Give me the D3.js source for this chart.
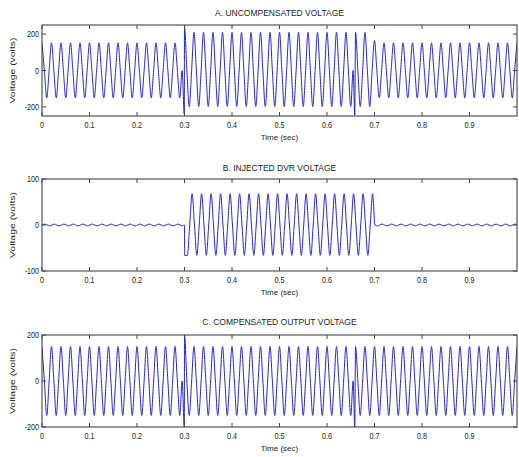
<!DOCTYPE html>
<meta charset="utf-8">
<script src="https://cdn.jsdelivr.net/npm/d3@7"></script>
<style>
  body { margin: 0; background: #fff; }
  text { font-family: "Liberation Sans", Arial, sans-serif; fill: #222; }
</style>
<svg id="graph" width="519" height="457"></svg>
<script>

// ---- data ----
var timeTicks = [0, 0.1, 0.2, 0.3, 0.4, 0.5, 0.6, 0.7, 0.8, 0.9];
var titles = ["A. UNCOMPENSATED VOLTAGE", "B. INJECTED DVR VOLTAGE", "C. COMPENSATED OUTPUT VOLTAGE"];
var yTicksA = [-200, 0, 200], yTicksB = [-100, 0, 100], yTicksC = [-200, 0, 200];
var yLimA = [-250, 250], yLimB = [-100, 100], yLimC = [-200, 200];
var halfPeriod = 0.01;   // 50 Hz supply, one extremum every 10 ms

// half-cycle extremes, one row per 0.1 s
var peaksA = [
  152,-150,152,-150,152,-150,152,-150,152,-150,
  152,-150,152,-150,152,-150,152,-150,152,-150,
  152,-150,152,-150,152,-150,152,-150,152,-150,
  240,-198,210,-198,210,-198,210,-198,210,-198,
  210,-198,210,-198,210,-198,210,-198,210,-198,
  210,-198,210,-198,210,-198,210,-198,210,-198,
  210,-198,210,-198,210,-198,210,-198,210,-198,
  165,-150,152,-150,152,-150,152,-150,152,-150,
  152,-150,152,-150,152,-150,152,-150,152,-150,
  152,-150,152,-150,152,-150,152,-150,152,-150,
  152];
var spikesA = [[0.2996, -240], [0.6585, -245]];

var peaksB = [
  2,-2,2,-2,2,-2,2,-2,2,-2,
  2,-2,2,-2,2,-2,2,-2,2,-2,
  2,-2,2,-2,2,-2,2,-2,2,-2,
  -66,68,-66,68,-66,68,-66,68,-66,68,
  -66,68,-66,68,-66,68,-66,68,-66,68,
  -66,68,-66,68,-66,68,-66,68,-66,68,
  -66,68,-66,68,-66,68,-66,68,-66,68,
  -2,2,-2,2,-2,2,-2,2,-2,2,
  -2,2,-2,2,-2,2,-2,2,-2,2,
  -2,2,-2,2,-2,2,-2,2,-2,2];
var spikesB = [[0, 0], [0.2999, 0], [0.3004, -66], [1, 0]];

var peaksC = [
  150,-150,150,-150,150,-150,150,-150,150,-150,
  150,-150,150,-150,150,-150,150,-150,150,-150,
  150,-150,150,-150,150,-150,150,-150,150,-150,
  200,-150,150,-150,150,-150,150,-150,150,-150,
  150,-150,150,-150,150,-150,150,-150,150,-150,
  150,-150,150,-150,150,-150,150,-150,150,-150,
  150,-150,150,-150,150,-150,150,-150,150,-150,
  150,-150,150,-150,150,-150,150,-150,150,-150,
  150,-150,150,-150,150,-150,150,-150,150,-150,
  150,-150,150,-150,150,-150,150,-150,150,-150,
  150];
var spikesC = [[0.2996, -200], [0.6585, -200]];

// ---- layout ----
var svg = d3.select("#graph");
var left = 42, right = 517;
var x = d3.scaleLinear().domain([0, 1]).range([left, right]);

var panels = [
  {title: titles[0], peaks: peaksA, t0: 0,     extra: spikesA, lim: yLimA, ticks: yTicksA, top: 25,  bottom: 116, titleY: 16},
  {title: titles[1], peaks: peaksB, t0: 0.006, extra: spikesB, lim: yLimB, ticks: yTicksB, top: 179, bottom: 271, titleY: 171},
  {title: titles[2], peaks: peaksC, t0: 0,     extra: spikesC, lim: yLimC, ticks: yTicksC, top: 335, bottom: 427, titleY: 325}
];

function buildWave(peaks, t0, extra) {
  var pts = [];
  peaks.forEach(function(v, k) {
    pts.push([t0 + k * halfPeriod, v]);
    if (k < peaks.length - 1) pts.push([t0 + (k + 0.5) * halfPeriod, 0]);
  });
  // zero crossings that sit on a transient are replaced by it
  pts = pts.filter(function(p) {
    return p[1] !== 0 || !extra.some(function(e) { return Math.abs(e[0] - p[0]) < 0.003; });
  });
  return pts.concat(extra).sort(function(a, b) { return a[0] - b[0]; });
}

var tickLen = 4;

panels.forEach(function(p, i) {
  var y = d3.scaleLinear().domain(p.lim).range([p.bottom, p.top]);
  var g = svg.append("g").attr("class", "panel");

  g.append("clipPath").attr("id", "clip" + i)
    .append("rect").attr("x", left).attr("y", p.top)
    .attr("width", right - left).attr("height", p.bottom - p.top);

  // signal
  var line = d3.line()
      .curve(d3.curveMonotoneX)
      .x(function(d) { return x(d[0]); })
      .y(function(d) { return y(d[1]); });

  g.append("path")
      .datum(buildWave(p.peaks, p.t0, p.extra))
      .attr("clip-path", "url(#clip" + i + ")")
      .attr("fill", "none")
      .attr("stroke", "#2424cc")
      .attr("stroke-width", 1)
      .attr("d", line);

  // box
  g.append("rect")
      .attr("x", left).attr("y", p.top)
      .attr("width", right - left).attr("height", p.bottom - p.top)
      .attr("fill", "none").attr("stroke", "#444").attr("stroke-width", 1.1);

  // x ticks inward on bottom and top
  var xt = g.selectAll(".xt").data(timeTicks).enter();
  xt.append("line")
      .attr("x1", function(d) { return x(d); }).attr("x2", function(d) { return x(d); })
      .attr("y1", p.bottom).attr("y2", p.bottom - tickLen)
      .attr("stroke", "#444");
  xt.append("line")
      .attr("x1", function(d) { return x(d); }).attr("x2", function(d) { return x(d); })
      .attr("y1", p.top).attr("y2", p.top + tickLen)
      .attr("stroke", "#444");
  xt.append("text")
      .attr("transform", function(d) { return "translate(" + x(d) + "," + (p.bottom + 12) + ") scale(0.8,1)"; })
      .attr("text-anchor", "middle")
      .style("font-size", "9px")
      .text(function(d) { return d3.format("")(d); });

  // y ticks inward on left and right
  var yt = g.selectAll(".yt").data(p.ticks).enter();
  yt.append("line")
      .attr("x1", left).attr("x2", left + tickLen)
      .attr("y1", function(d) { return y(d); }).attr("y2", function(d) { return y(d); })
      .attr("stroke", "#444");
  yt.append("line")
      .attr("x1", right).attr("x2", right - tickLen)
      .attr("y1", function(d) { return y(d); }).attr("y2", function(d) { return y(d); })
      .attr("stroke", "#444");
  yt.append("text")
      .attr("transform", function(d) { return "translate(" + (left - 3) + "," + (y(d) + 3) + ") scale(0.8,1)"; })
      .attr("text-anchor", "end")
      .style("font-size", "9px")
      .text(function(d) { return d; });

  // labels
  g.append("text")
      .attr("x", (left + right) / 2).attr("y", p.titleY)
      .attr("text-anchor", "middle")
      .style("font-size", "8.5px")
      .text(p.title);

  g.append("text")
      .attr("x", (left + right) / 2).attr("y", p.bottom + 24)
      .attr("text-anchor", "middle")
      .style("font-size", "8px")
      .text("Time (sec)");

  g.append("text")
      .attr("transform", "translate(15," + ((p.top + p.bottom) / 2) + ") rotate(-90)")
      .attr("text-anchor", "middle")
      .attr("textLength", 66)
      .attr("lengthAdjust", "spacingAndGlyphs")
      .style("font-size", "8px")
      .text("Voltage (volts)");
});

</script>
